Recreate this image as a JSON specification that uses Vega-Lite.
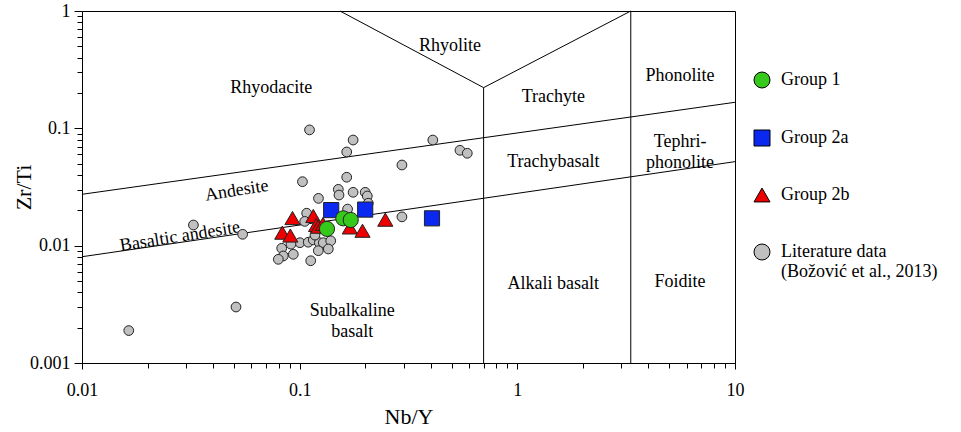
{
  "$schema": "https://vega.github.io/schema/vega-lite/v6.json",
  "width": 653,
  "height": 352,
  "autosize": "none",
  "padding": {"left": 82, "top": 11, "right": 226, "bottom": 69},
  "background": "white",
  "config": {
    "font": "'Liberation Serif', 'DejaVu Serif', serif",
    "view": {"stroke": "black", "strokeWidth": 1},
    "axis": {
      "domainColor": "black", "domainWidth": 1, "tickColor": "black", "tickWidth": 1,
      "labelColor": "black", "labelFontSize": 18, "labelFont": "'Liberation Serif', 'DejaVu Serif', serif",
      "titleColor": "black", "titleFontSize": 22, "titleFontWeight": "normal", "titleFont": "'Liberation Serif', 'DejaVu Serif', serif",
      "grid": false, "labelOverlap": false, "labelFlush": false
    },
    "legend": {
      "orient": "none", "legendX": 671, "legendY": 60, "padding": 0,
      "labelFontSize": 18, "labelFont": "'Liberation Serif', 'DejaVu Serif', serif", "labelColor": "black",
      "labelOffset": 10, "symbolSize": 256, "symbolStrokeColor": "black", "symbolStrokeWidth": 1,
      "rowPadding": 38, "title": null, "labelLimit": 300
    },
    "text": {"font": "'Liberation Serif', 'DejaVu Serif', serif"}
  },
  "datasets": {
    "segs": [
      {"x": 0.01, "y": 0.0274, "x2": 10, "y2": 0.1667},
      {"x": 0.01, "y": 0.00805, "x2": 10, "y2": 0.052},
      {"x": 0.7, "y": 0.001, "x2": 0.7, "y2": 0.2222},
      {"x": 3.32, "y": 0.001, "x2": 3.32, "y2": 1},
      {"x": 0.1532, "y": 1, "x2": 0.7, "y2": 0.2222},
      {"x": 0.7, "y": 0.2222, "x2": 3.32, "y2": 1}
    ],
    "labels": [
      {"label": "Rhyolite", "x": 0.49, "y": 0.503},
      {"label": "Rhyodacite", "x": 0.0741, "y": 0.2193},
      {"label": "Trachyte", "x": 1.463, "y": 0.1838},
      {"label": "Phonolite", "x": 5.59, "y": 0.2793},
      {"label": "Tephri-\nphonolite", "x": 5.59, "y": 0.0765},
      {"label": "Trachybasalt", "x": 1.463, "y": 0.0513},
      {"label": "Alkali basalt", "x": 1.463, "y": 0.00468},
      {"label": "Foidite", "x": 5.59, "y": 0.00493},
      {"label": "Subalkaline\nbasalt", "x": 0.1745, "y": 0.002774}
    ],
    "rlabels": [
      {"label": "Andesite", "x": 0.0514, "y": 0.0294},
      {"label": "Basaltic andesite", "x": 0.0282, "y": 0.01193}
    ],
    "lit": [
      {"g": "Literature data", "x": 0.0164, "y": 0.00189},
      {"g": "Literature data", "x": 0.051, "y": 0.003},
      {"g": "Literature data", "x": 0.0325, "y": 0.015},
      {"g": "Literature data", "x": 0.0547, "y": 0.0125},
      {"g": "Literature data", "x": 0.111, "y": 0.097},
      {"g": "Literature data", "x": 0.176, "y": 0.0795},
      {"g": "Literature data", "x": 0.1645, "y": 0.0629},
      {"g": "Literature data", "x": 0.409, "y": 0.0795},
      {"g": "Literature data", "x": 0.545, "y": 0.065},
      {"g": "Literature data", "x": 0.589, "y": 0.0613},
      {"g": "Literature data", "x": 0.295, "y": 0.0487},
      {"g": "Literature data", "x": 0.103, "y": 0.0351},
      {"g": "Literature data", "x": 0.1645, "y": 0.0383},
      {"g": "Literature data", "x": 0.1505, "y": 0.0302},
      {"g": "Literature data", "x": 0.1516, "y": 0.027},
      {"g": "Literature data", "x": 0.176, "y": 0.0285},
      {"g": "Literature data", "x": 0.2, "y": 0.0285},
      {"g": "Literature data", "x": 0.2045, "y": 0.0265},
      {"g": "Literature data", "x": 0.122, "y": 0.0253},
      {"g": "Literature data", "x": 0.295, "y": 0.0176},
      {"g": "Literature data", "x": 0.166, "y": 0.0205},
      {"g": "Literature data", "x": 0.2066, "y": 0.023},
      {"g": "Literature data", "x": 0.1077, "y": 0.0189},
      {"g": "Literature data", "x": 0.1055, "y": 0.0161},
      {"g": "Literature data", "x": 0.1003, "y": 0.0106},
      {"g": "Literature data", "x": 0.0912, "y": 0.0103},
      {"g": "Literature data", "x": 0.0827, "y": 0.0095},
      {"g": "Literature data", "x": 0.0841, "y": 0.00817},
      {"g": "Literature data", "x": 0.0798, "y": 0.00765},
      {"g": "Literature data", "x": 0.0935, "y": 0.00844},
      {"g": "Literature data", "x": 0.1124, "y": 0.00744},
      {"g": "Literature data", "x": 0.1095, "y": 0.0107},
      {"g": "Literature data", "x": 0.1155, "y": 0.0112},
      {"g": "Literature data", "x": 0.1231, "y": 0.0106},
      {"g": "Literature data", "x": 0.1284, "y": 0.0106},
      {"g": "Literature data", "x": 0.1389, "y": 0.011},
      {"g": "Literature data", "x": 0.1218, "y": 0.00906},
      {"g": "Literature data", "x": 0.1354, "y": 0.00937},
      {"g": "Literature data", "x": 0.1176, "y": 0.0123}
    ],
    "grp": [
      {"g": "Group 2b", "x": 0.0927, "y": 0.0172},
      {"g": "Group 2b", "x": 0.0832, "y": 0.0129},
      {"g": "Group 2b", "x": 0.0906, "y": 0.0122},
      {"g": "Group 2b", "x": 0.1155, "y": 0.0179},
      {"g": "Group 2b", "x": 0.119, "y": 0.015},
      {"g": "Group 2b", "x": 0.1218, "y": 0.0145},
      {"g": "Group 2b", "x": 0.128, "y": 0.0153},
      {"g": "Group 2b", "x": 0.17, "y": 0.0143},
      {"g": "Group 2b", "x": 0.1944, "y": 0.0134},
      {"g": "Group 2b", "x": 0.2474, "y": 0.01665},
      {"g": "Group 2a", "x": 0.1396, "y": 0.0201},
      {"g": "Group 2a", "x": 0.2, "y": 0.0203},
      {"g": "Group 2a", "x": 0.4055, "y": 0.0171},
      {"g": "Group 1", "x": 0.1335, "y": 0.0139},
      {"g": "Group 1", "x": 0.1586, "y": 0.0171},
      {"g": "Group 1", "x": 0.1716, "y": 0.01655}
    ]
  },
  "encoding": {
    "x": {
      "field": "x", "type": "quantitative", "title": "Nb/Y",
      "scale": {"type": "log", "domain": [0.01, 10], "nice": false},
      "axis": {
        "values": [0.01,0.02,0.03,0.04,0.05,0.06,0.07,0.08,0.09,0.1,0.2,0.3,0.4,0.5,0.6,0.7,0.8,0.9,1,2,3,4,5,6,7,8,9,10],
        "labelExpr": "datum.value == 0.01 ? '0.01' : datum.value == 0.1 ? '0.1' : datum.value == 1 ? '1' : datum.value == 10 ? '10' : ''",
        "tickSize": {"condition": {"test": "datum.value == 0.01 || datum.value == 0.1 || datum.value == 1 || datum.value == 10", "value": 6}, "value": 5},
        "labelPadding": 12, "titleY": 53, "titleBaseline": "middle"
      }
    },
    "y": {
      "field": "y", "type": "quantitative", "title": "Zr/Ti",
      "scale": {"type": "log", "domain": [0.001, 1], "nice": false},
      "axis": {
        "values": [0.001,0.002,0.003,0.004,0.005,0.006,0.007,0.008,0.009,0.01,0.02,0.03,0.04,0.05,0.06,0.07,0.08,0.09,0.1,0.2,0.3,0.4,0.5,0.6,0.7,0.8,0.9,1],
        "labelExpr": "datum.value == 0.001 ? '0.001' : datum.value == 0.01 ? '0.01' : datum.value == 0.1 ? '0.1' : datum.value == 1 ? '1' : ''",
        "tickSize": {"condition": {"test": "datum.value == 0.001 || datum.value == 0.01 || datum.value == 0.1 || datum.value == 1", "value": 8}, "value": 5},
        "labelPadding": 4, "titleX": -59, "titleY": 176, "titleAlign": "center", "titleBaseline": "middle", "titleAngle": 270
      }
    }
  },
  "layer": [
    {
      "data": {"name": "segs"},
      "mark": {"type": "rule", "color": "black", "strokeWidth": 1},
      "encoding": {"x2": {"field": "x2"}, "y2": {"field": "y2"}}
    },
    {
      "data": {"name": "labels"},
      "mark": {"type": "text", "fontSize": 18, "color": "black", "align": "center", "baseline": "middle", "lineBreak": "\n", "lineHeight": 21},
      "encoding": {"text": {"field": "label"}}
    },
    {
      "data": {"name": "rlabels"},
      "mark": {"type": "text", "fontSize": 18, "color": "black", "align": "center", "baseline": "middle", "angle": 351},
      "encoding": {"text": {"field": "label"}}
    },
    {
      "data": {"name": "lit"},
      "mark": {"type": "point", "filled": true, "opacity": 1, "size": 95, "stroke": "#222", "strokeWidth": 1},
      "encoding": {
        "color": {"field": "g", "type": "nominal",
          "scale": {"domain": ["Group 1", "Group 2a", "Group 2b", "Literature data"], "range": ["#36c81a", "#0a28f0", "#ee0000", "#c0c0c0"]},
          "legend": {"labelExpr": "datum.label == 'Literature data' ? ['Literature data', '(Božović et al., 2013)'] : datum.label"}},
        "shape": {"field": "g", "type": "nominal",
          "scale": {"domain": ["Group 1", "Group 2a", "Group 2b", "Literature data"], "range": ["circle", "square", "triangle-up", "circle"]}}
      }
    },
    {
      "data": {"name": "grp"},
      "mark": {"type": "point", "filled": true, "opacity": 1, "size": 230, "stroke": "#222", "strokeWidth": 1},
      "encoding": {
        "color": {"field": "g", "type": "nominal"},
        "shape": {"field": "g", "type": "nominal"}
      }
    }
  ]
}
